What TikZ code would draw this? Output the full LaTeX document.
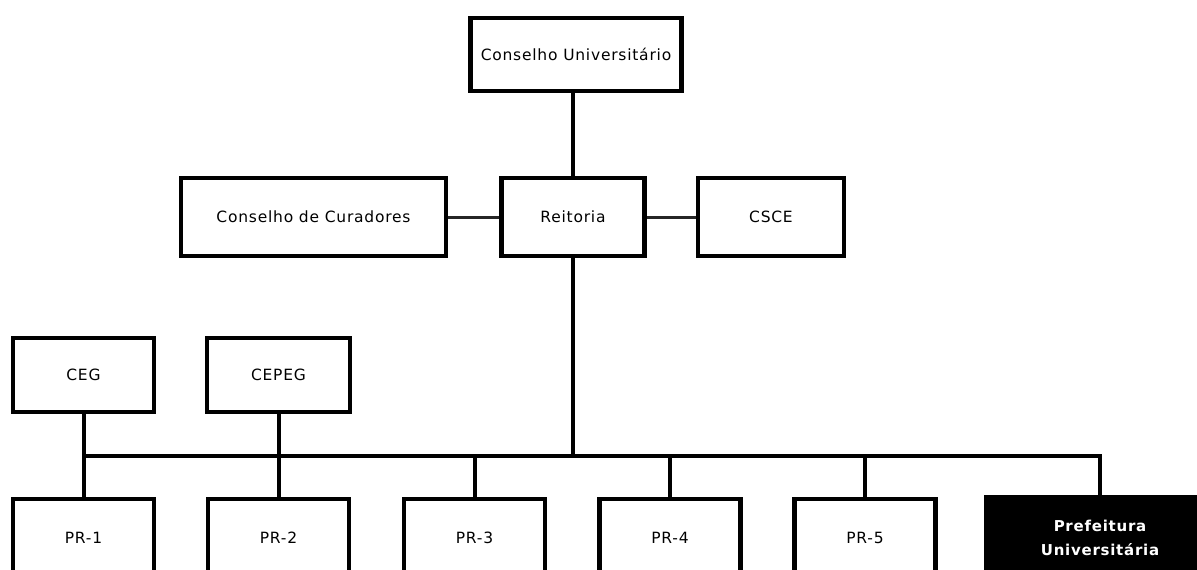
\documentclass[tikz,border=0pt]{standalone}
\usepackage{fontspec}
\setmainfont{DejaVu Sans}[LetterSpace=5]
\begin{document}
\begin{tikzpicture}[x=1pt,y=-1pt,
  box/.style={draw=black,line width=4.5pt,fill=white,rectangle,inner sep=0pt,
    font=\fontsize{15.5}{18}\selectfont,align=center},
  dark/.style={box,fill=black,text=white,font=\fontsize{15}{24}\selectfont\bfseries},
  link/.style={line width=4pt,black},
  side/.style={line width=3pt,black!85}]
\useasboundingbox (0,0) rectangle (1197,570);
\clip (0,0) rectangle (1197,570);
\node[box,minimum width=211pt,minimum height=73pt] (cu) at (576,54.5) {Conselho Universitário};
\node[box,minimum width=265pt,minimum height=78pt] (cc) at (313.5,217) {Conselho de Curadores};
\node[box,minimum width=143pt,minimum height=78pt] (re) at (573,217) {Reitoria};
\node[box,minimum width=146pt,minimum height=78pt] (csce) at (771,217) {CSCE};
\node[box,minimum width=141pt,minimum height=74pt] (ceg) at (83.5,375) {CEG};
\node[box,minimum width=143pt,minimum height=74pt] (cepeg) at (278.5,375) {CEPEG};
\node[box,minimum width=141pt,minimum height=78pt] (pr1) at (83.5,538) {PR-1};
\node[box,minimum width=141pt,minimum height=78pt] (pr2) at (278.5,538) {PR-2};
\node[box,minimum width=141pt,minimum height=78pt] (pr3) at (474.5,538) {PR-3};
\node[box,minimum width=141pt,minimum height=78pt] (pr4) at (670,538) {PR-4};
\node[box,minimum width=141pt,minimum height=78pt] (pr5) at (865,538) {PR-5};
\node[dark,minimum width=228pt,minimum height=82pt] (pu) at (1100,538) {Prefeitura\\Universitária};
\coordinate (bus) at (0,456);
\draw[link] (cu.south -| re.north) -- (re.north);
\draw[side] (cc.east) -- (re.west);
\draw[side] (re.east) -- (csce.west);
\draw[link] (re.south) -- (re.south |- bus);
\draw[link] (ceg.south) -- (pr1.north);
\draw[link] (cepeg.south) -- (pr2.north);
\draw[link] (pr1.north |- bus) -- (pu.north |- bus) -- (pu.north);
\draw[link] (pr3.north |- bus) -- (pr3.north);
\draw[link] (pr4.north |- bus) -- (pr4.north);
\draw[link] (pr5.north |- bus) -- (pr5.north);
\end{tikzpicture}
\end{document}
